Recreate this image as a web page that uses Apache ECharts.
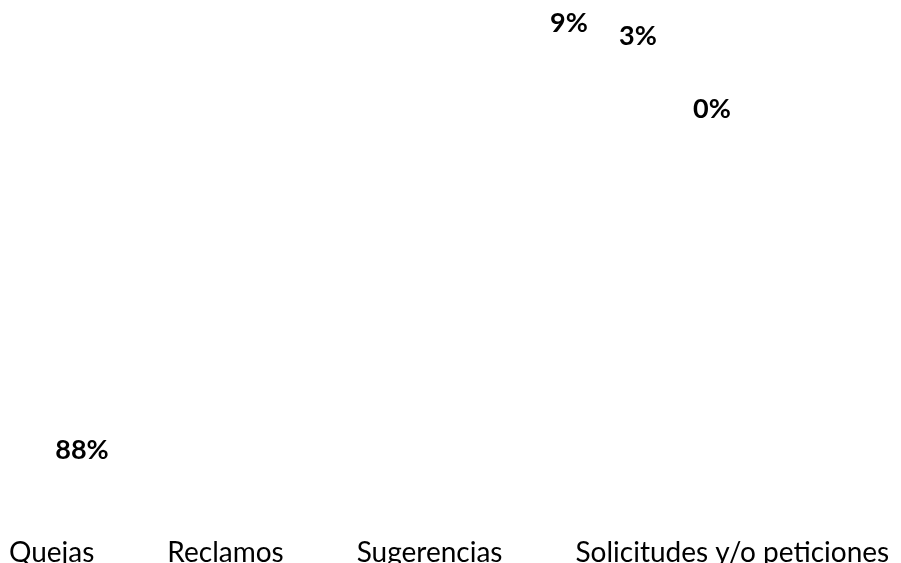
<!DOCTYPE html>
<html>
<head>
<meta charset="utf-8">
<style>
  html, body { margin: 0; padding: 0; background: #ffffff; }
  #chart { width: 901px; height: 563px; }
</style>
<script src="https://cdn.jsdelivr.net/npm/echarts@6/dist/echarts.min.js"></script>
</head>
<body>
<div id="chart"></div>
<script>
// Data
const categories = ['Quejas', 'Reclamos', 'Sugerencias', 'Solicitudes y/o peticiones'];
const values = [88, 9, 3, 0];

// Label anchor points (layout only, centre of each percentage label)
const labelAnchors = [[82, 450], [569, 23], [638, 36], [712, 109]];

const FONT = 'Lato';

const chart = echarts.init(document.getElementById('chart'), null, { renderer: 'canvas' });
chart.setOption({
  backgroundColor: '#ffffff',
  animation: false,
  legend: {
    data: categories,
    orient: 'horizontal',
    left: 1,
    top: 539,
    width: 900,
    padding: 0,
    icon: 'rect',
    itemWidth: 2,
    itemHeight: 2,
    itemGap: 65,
    selectedMode: false,
    textStyle: { fontFamily: FONT, fontSize: 28, color: '#000000' }
  },
  series: [{
    type: 'pie',
    center: ['50%', '46%'],
    radius: ['0%', '60%'],
    startAngle: 90,
    percentPrecision: 0,
    silent: true,
    itemStyle: { color: '#ffffff', borderColor: '#ffffff', borderWidth: 1 },
    emphasis: { disabled: true },
    label: {
      show: true,
      position: 'outside',
      formatter: '{d}%',
      fontFamily: FONT,
      fontWeight: 'bold',
      fontSize: 27,
      color: '#000000'
    },
    labelLine: { show: false },
    labelLayout: function (p) {
      const a = labelAnchors[p.dataIndex];
      return { x: a[0], y: a[1], align: 'center', verticalAlign: 'middle', hideOverlap: false };
    },
    data: categories.map((name, i) => ({ name: name, value: values[i] }))
  }]
});
</script>
</body>
</html>
